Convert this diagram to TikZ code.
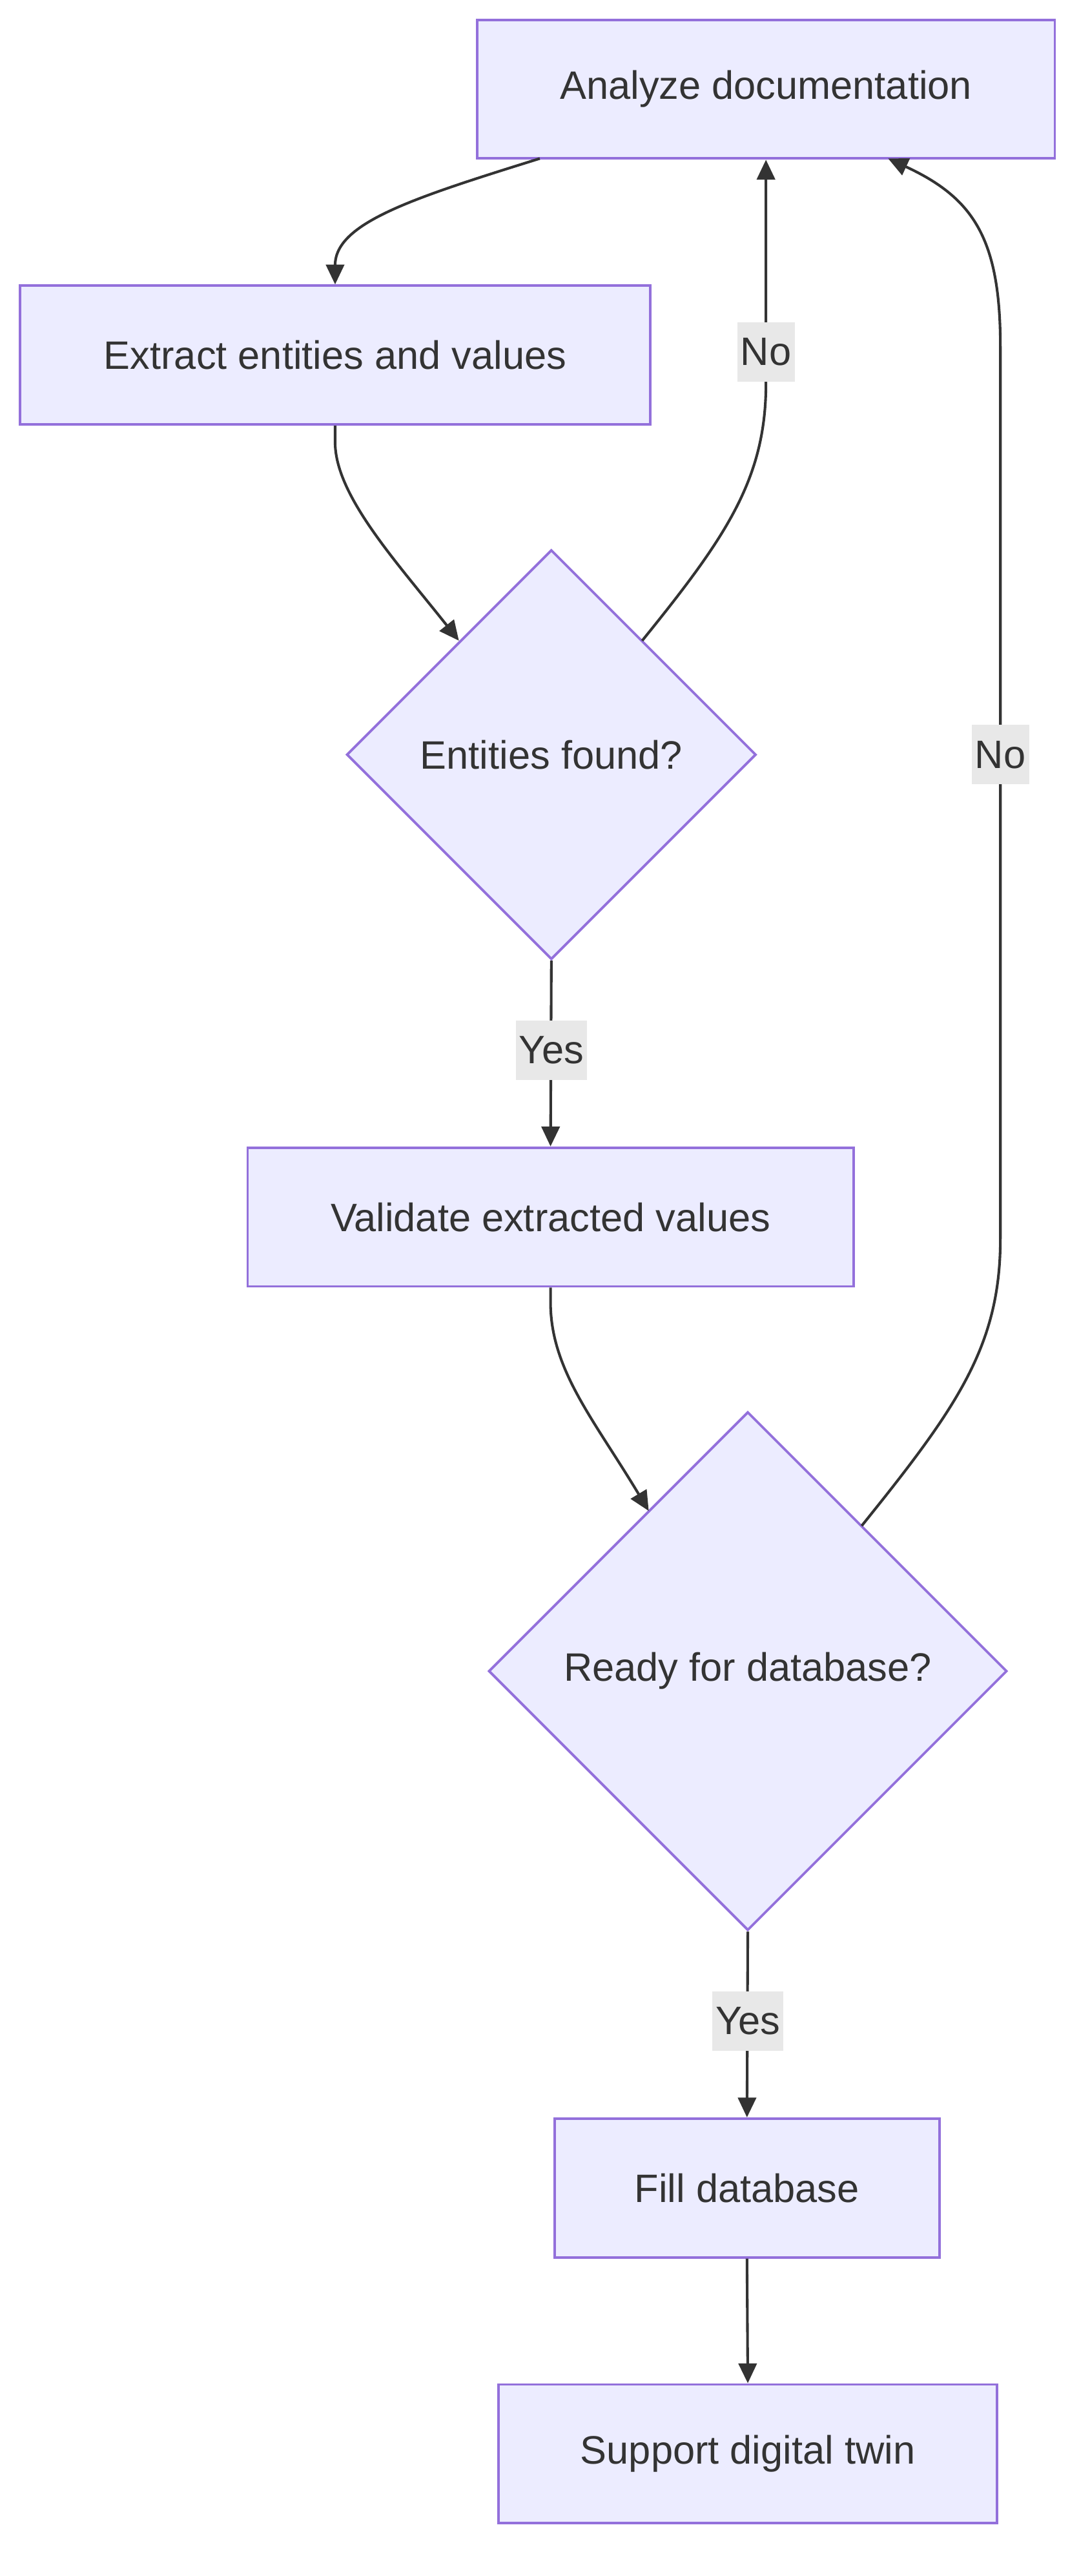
\documentclass[tikz,border=0pt]{standalone}
\usepackage{fontspec}
\setmainfont{Liberation Sans}
\usetikzlibrary{shapes.geometric,arrows.meta}
\definecolor{nfill}{HTML}{ECECFF}
\definecolor{nstroke}{HTML}{9370DB}
\definecolor{ntext}{HTML}{333333}
\definecolor{lbg}{HTML}{E8E8E8}
\begin{document}
\begin{tikzpicture}[x=1pt,y=-1pt,
  box/.style={draw=nstroke,fill=nfill,line width=1.5pt,text=ntext,font=\fontsize{24}{28}\selectfont,inner sep=0pt},
  dia/.style={draw=nstroke,fill=nfill,line width=1.5pt,text=ntext,font=\fontsize{24}{28}\selectfont,diamond,inner sep=0pt,aspect=1},
  edge/.style={draw=ntext,line width=1.6pt,-{Triangle[length=12pt,width=11pt]}},
  lab/.style={fill=lbg,text=ntext,font=\fontsize{24}{28}\selectfont,inner sep=2pt,minimum height=36pt}]
\useasboundingbox (0,0) rectangle (660,1560);
\node[box,minimum width=350pt,minimum height=84pt] (a) at (464,54) {Analyze documentation};
\node[box,minimum width=382pt,minimum height=84pt] (e) at (203,215) {Extract entities and values};
\node[dia,minimum width=248pt,minimum height=248pt] (f) at (334,457) {Entities found?};
\node[box,minimum width=367pt,minimum height=84pt] (v) at (333.5,737) {Validate extracted values};
\node[dia,minimum width=314pt,minimum height=314pt] (r) at (453,1012) {Ready for database?};
\node[box,minimum width=233pt,minimum height=84pt] (fd) at (452.5,1325) {Fill database};
\node[box,minimum width=302pt,minimum height=84pt] (s) at (453,1486) {Support digital twin};
\coordinate (a1) at (327,96);
\coordinate (a2) at (538,96);
\coordinate (f1) at (389,388);
\coordinate (f2) at (278,388);
\coordinate (r1) at (522,924);
\coordinate (r2) at (393,915);
\draw[edge] (a1) .. controls (250,120) and (203,135) .. (e.north);
\draw[edge] (e.south) -- ++(0,10) .. controls (203,300) and (240,340) .. (f2);
\draw[edge] (f1) .. controls (440,325) and (464,290) .. (464,232) -- (a.south);
\node[lab] (n1) at (464,213) {No};
\draw[edge] (f.south) -- (v.north);
\node[lab] (y1) at (334,636) {Yes};
\draw[edge] (v.south) -- ++(0,10) .. controls (334,830) and (360,860) .. (r2);
\draw[edge] (r1) .. controls (580,852) and (606,815) .. (606,750) -- (606,210) .. controls (606,145) and (590,120) .. (a2);
\node[lab] (n2) at (606,457) {No};
\draw[edge] (r.south) -- (fd.north);
\node[lab] (y2) at (453,1224) {Yes};
\draw[edge] (fd.south) -- (s.north);
\end{tikzpicture}
\end{document}
